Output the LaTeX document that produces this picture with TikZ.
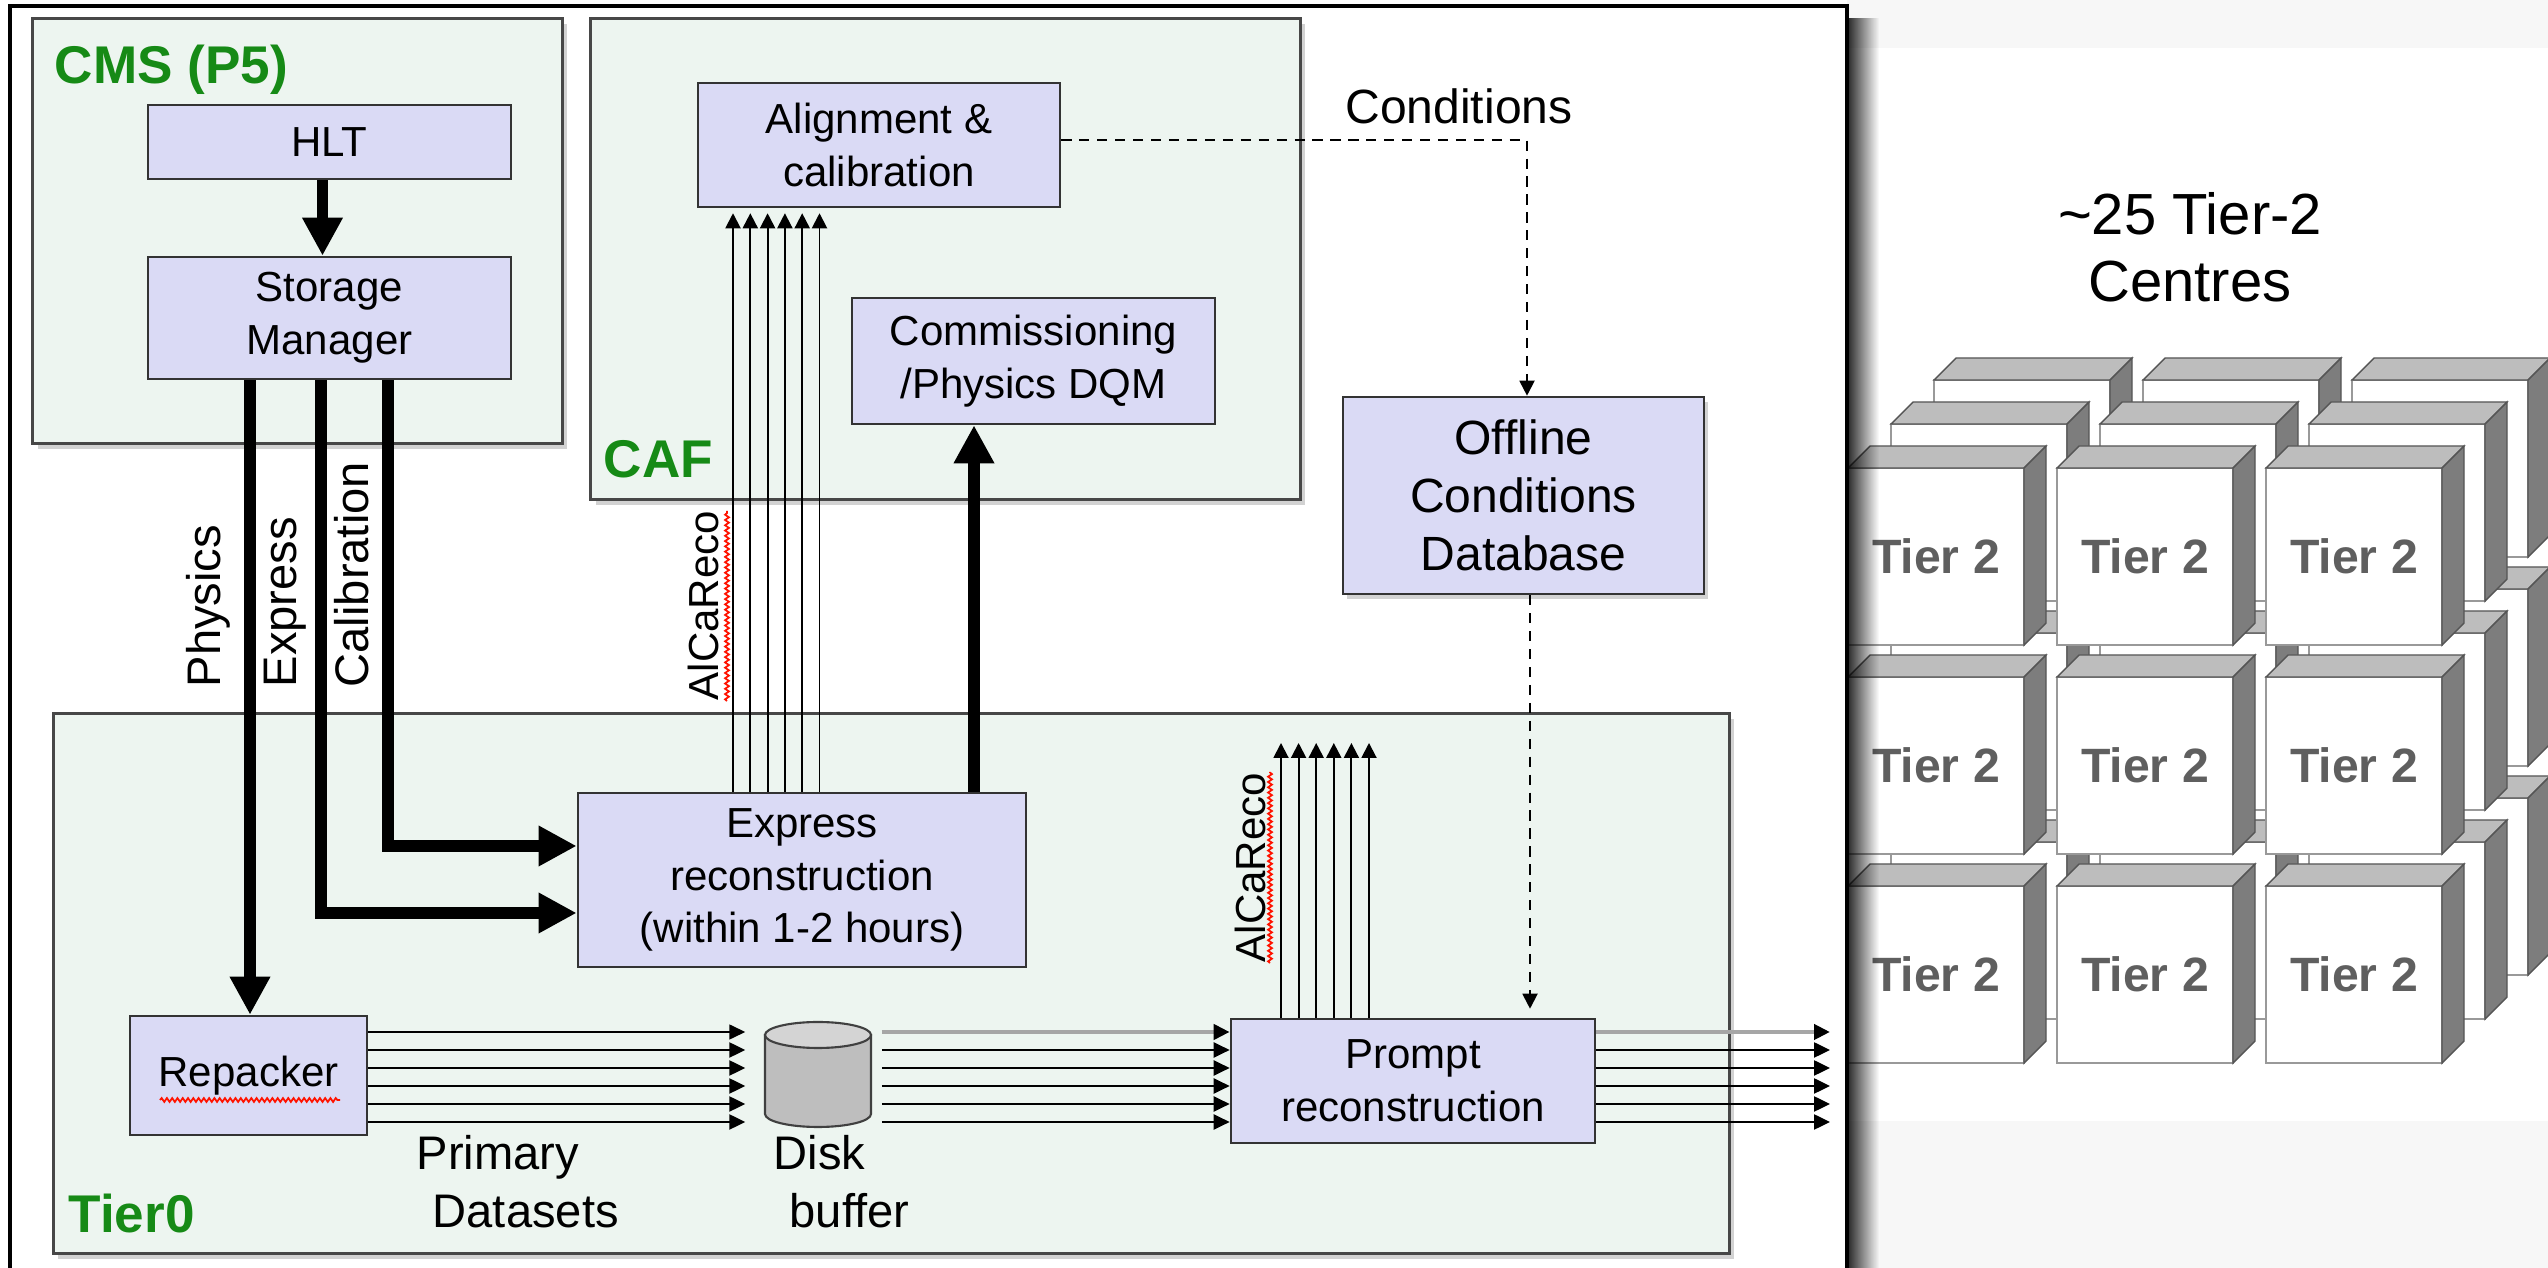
\documentclass[tikz,border=0pt]{standalone}
\usepackage{fontspec}
\setmainfont{Liberation Sans}
\usetikzlibrary{arrows.meta,shadows,decorations.pathmorphing,fadings}

\definecolor{mint}{RGB}{237,245,240}
\definecolor{lav}{RGB}{218,218,245}
\definecolor{cmsgreen}{RGB}{22,138,22}
\definecolor{panelgrey}{RGB}{247,247,247}
\definecolor{cubetop}{RGB}{189,189,189}
\definecolor{cubeside}{RGB}{125,125,125}
\definecolor{cubeedge}{RGB}{85,85,85}
\definecolor{cubetext}{RGB}{95,95,95}
\definecolor{diskbody}{RGB}{190,190,190}
\definecolor{disktop}{RGB}{212,212,212}

\tikzfading[name=frameshade, left color=transparent!0, right color=transparent!100]

% one Tier-2 box in the grid: front face, top face, right face, label
\newcommand{\drawcube}[3]{%
  \filldraw[fill=white, draw=black!40, line width=0.4pt] (#1,#2) rectangle ++(176,177);
  \filldraw[fill=cubetop, draw=cubeedge, line width=0.4pt] (#1,#2) -- ++(22,-22) -- ++(176,0) -- ++(-22,22) -- cycle;
  \filldraw[fill=cubeside, draw=cubeedge, line width=0.4pt] (#1+176,#2) -- ++(22,-22) -- ++(0,177) -- ++(-22,22) -- cycle;
  \node[font=\fontsize{13.7}{16}\selectfont\bfseries, text=cubetext] at (#1+88,#2+88) {#3};%
}

\begin{document}
\begin{tikzpicture}[x=0.01cm, y=-0.01cm,
  grp/.style={draw=black!72, line width=0.85pt, fill=mint, inner sep=0pt,
    drop shadow={shadow xshift=1.4pt, shadow yshift=-1.6pt, opacity=0.35}},
  box/.style={draw=black!80, line width=0.7pt, fill=lav, inner sep=0pt, align=center,
    font=\fontsize{11.95}{15}\selectfont},
  bigbox/.style={box, font=\fontsize{13.66}{16.4}\selectfont,
    drop shadow={shadow xshift=1.2pt, shadow yshift=-1.4pt, opacity=0.35}},
  grplabel/.style={font=\fontsize{15.1}{18}\selectfont\bfseries, text=cmsgreen, inner sep=0pt, anchor=west},
  rotlabel/.style={font=\fontsize{13.4}{16}\selectfont, inner sep=0pt, rotate=90, anchor=west},
  alcalabel/.style={font=\fontsize{11.95}{14}\selectfont, inner sep=0pt, rotate=90, anchor=west},
  plainlabel/.style={font=\fontsize{13.4}{16.5}\selectfont, inner sep=0pt, align=left, anchor=north west},
  fat/.style={line width=3.4pt, line join=miter, -{Triangle[length=0.38cm,width=0.38cm]}},
  bundle/.style={line width=0.7pt, -{Triangle[length=0.16cm,width=0.15cm]}},
  alca/.style={line width=0.55pt, -{Triangle[length=0.15cm,width=0.15cm]}},
  dashline/.style={line width=0.55pt, dash pattern=on 2.9pt off 2.2pt, -{Triangle[length=0.15cm,width=0.15cm]}},
  squiggle/.style={draw=red!85!orange, line width=0.5pt, decorate,
    decoration={snake, amplitude=0.55pt, segment length=1.5pt}}
]
\useasboundingbox (0,0) rectangle (2548,1268);

% page backgrounds
\fill[white] (0,0) rectangle (2548,1268);
\fill[panelgrey] (1847,0) rectangle (2548,48);
\fill[panelgrey] (1847,1121) rectangle (2548,1268);

% Tier-2 grid, back layer first
\begin{scope}
  \clip (1847,0) rectangle (2548,1268);
  \foreach \L in {2,1,0} {
    \foreach \r in {0,1,2} {
      \foreach \c in {0,1,2} {
        \pgfmathsetmacro\cx{1848+209*\c+43*\L}
        \pgfmathsetmacro\cy{468+209*\r-44*\L}
        \ifnum\L=0
          \drawcube{\cx}{\cy}{Tier 2}
        \else
          \drawcube{\cx}{\cy}{}
        \fi
      }
    }
  }
\end{scope}
\node[font=\fontsize{16.5}{19}\selectfont, align=center] (t2title) at (2190,247) {\textasciitilde 25 Tier-2\\Centres};

% outer frame with its shadow
\fill[black, path fading=frameshade, opacity=0.8] (1849,18) rectangle (1879,1268);
\fill[white] (10,6) rectangle (1847,1268);
\draw[line width=0.9pt] (10,1268) -- (10,6) -- (1847,6) -- (1847,1268);

% groups
\node[grp, minimum width=5.29cm, minimum height=4.24cm] (cms) at (297.5,231) {};
\node[grp, minimum width=7.09cm, minimum height=4.80cm] (caf) at (945.5,259) {};
\node[grp, minimum width=16.75cm, minimum height=5.39cm] (tier0) at (891.5,983.5) {};
\node[grplabel] (cmslbl) at (54,70) {CMS (P5)};
\node[grplabel] (caflbl) at (603,459) {CAF};
\node[grplabel] (t0lbl) at (68,1214) {Tier0};

% processing boxes
\node[box, minimum width=3.63cm, minimum height=0.74cm] (hlt) at (329.5,142) {HLT};
\node[box, minimum width=3.63cm, minimum height=1.22cm] (sm) at (329.5,318) {Storage\\Manager};
\node[box, minimum width=3.62cm, minimum height=1.24cm] (al) at (879,145) {Alignment \&\\calibration};
\node[box, minimum width=3.63cm, minimum height=1.26cm] (dqm) at (1033.5,361) {Commissioning\\/Physics DQM};
\node[bigbox, minimum width=3.61cm, minimum height=1.97cm] (off) at (1523.5,495.5) {Offline\\Conditions\\Database};
\node[box, minimum width=4.48cm, minimum height=1.74cm] (xr) at (802,880) {Express\\reconstruction\\(within 1-2 hours)};
\node[box, minimum width=2.37cm, minimum height=1.19cm] (rep) at (248.5,1075.5) {Repacker};
\node[box, minimum width=3.64cm, minimum height=1.24cm] (pr) at (1413,1081) {Prompt\\reconstruction};

% disk buffer cylinder
\node[inner sep=0pt, minimum width=1.06cm, minimum height=1.05cm] (disk) at (818,1074.5) {};
\filldraw[fill=diskbody, draw=black!75, line width=0.6pt]
  (765,1035) -- (765,1114) arc[start angle=180, end angle=0, x radius=53, y radius=13] -- (871,1035) -- cycle;
\filldraw[fill=disktop, draw=black!75, line width=0.6pt] (818,1035) ellipse [x radius=53, y radius=13];

% free labels
\node[font=\fontsize{13.66}{16}\selectfont] (condlbl) at (1459,106) {Conditions};
\node[plainlabel] (primlbl) at (416,1135) {Primary\\\hspace*{0.16cm}Datasets};
\node[plainlabel] (disklbl) at (773,1135) {Disk\\\hspace*{0.16cm}buffer};

% stream lines out of the Storage Manager
\coordinate (phx) at (250,0);
\coordinate (exx) at (321,0);
\coordinate (cax) at (388,0);
\coordinate (exy) at (0,913);
\coordinate (cay) at (0,846);
\draw[fat] ([xshift=-0.07cm]hlt.south) -- ([xshift=-0.07cm]sm.north);
\draw[fat] (sm.south -| phx) -- (rep.north -| phx);
\draw[fat] (sm.south -| exx) |- (xr.west |- exy);
\draw[fat] (sm.south -| cax) |- (xr.west |- cay);
\node[rotlabel] (physlbl) at (208,688) {Physics};
\node[rotlabel] (exprlbl) at (285,688) {Express};
\node[rotlabel] (caliblbl) at (352,688) {Calibration};

% express output to DQM
\coordinate (dqx) at (974,0);
\draw[fat] (xr.north -| dqx) -- (dqm.south -| dqx);

% AlCaReco streams
\foreach \i in {0,...,5} {
  \coordinate (ua\i) at ({733+17.3*\i},0);
  \draw[alca, shorten >=0.05cm] (xr.north -| ua\i) -- (al.south -| ua\i);
  \coordinate (la\i) at ({1281+17.6*\i},743);
  \draw[alca] (pr.north -| la\i) -- (la\i);
}
\node[alcalabel] (alcaup) at (703,701) {AlCaReco};
\node[alcalabel] (alcalow) at (1250,963) {AlCaReco};
\draw[squiggle] (727,701) -- (727,511);
\draw[squiggle] (1270,963) -- (1270,772);
\draw[squiggle] (160,1100) -- (340,1100);

% primary dataset bundles
\coordinate (oe) at (1830,0);
\foreach \yy [count=\i] in {1032,1050,1068,1086,1104,1122} {
  \coordinate (b\i) at (0,\yy);
}
\draw[bundle, line width=0.45pt, shorten >=0.19cm] (rep.east |- b1) -- (disk.west |- b1);
\draw[bundle, draw=black!35, line width=1.2pt, -{Triangle[length=0.16cm,width=0.15cm,color=black]}, shorten <=0.1cm] (disk.east |- b1) -- (pr.west |- b1);
\draw[bundle, draw=black!35, line width=1.2pt, -{Triangle[length=0.16cm,width=0.15cm,color=black]}] (pr.east |- b1) -- (oe |- b1);
\foreach \i in {2,...,6} {
  \draw[bundle, shorten >=0.19cm] (rep.east |- b\i) -- (disk.west |- b\i);
  \draw[bundle, shorten <=0.1cm] (disk.east |- b\i) -- (pr.west |- b\i);
  \draw[bundle] (pr.east |- b\i) -- (oe |- b\i);
}

% conditions flow
\coordinate (dx) at (1527,0);
\coordinate (dy) at (0,140);
\coordinate (dx2) at (1530,0);
\draw[dashline] (al.east |- dy) -| (off.north -| dx);
\draw[dashline, shorten >=0.09cm] (off.south -| dx2) -- (pr.north -| dx2);

\end{tikzpicture}
\end{document}
